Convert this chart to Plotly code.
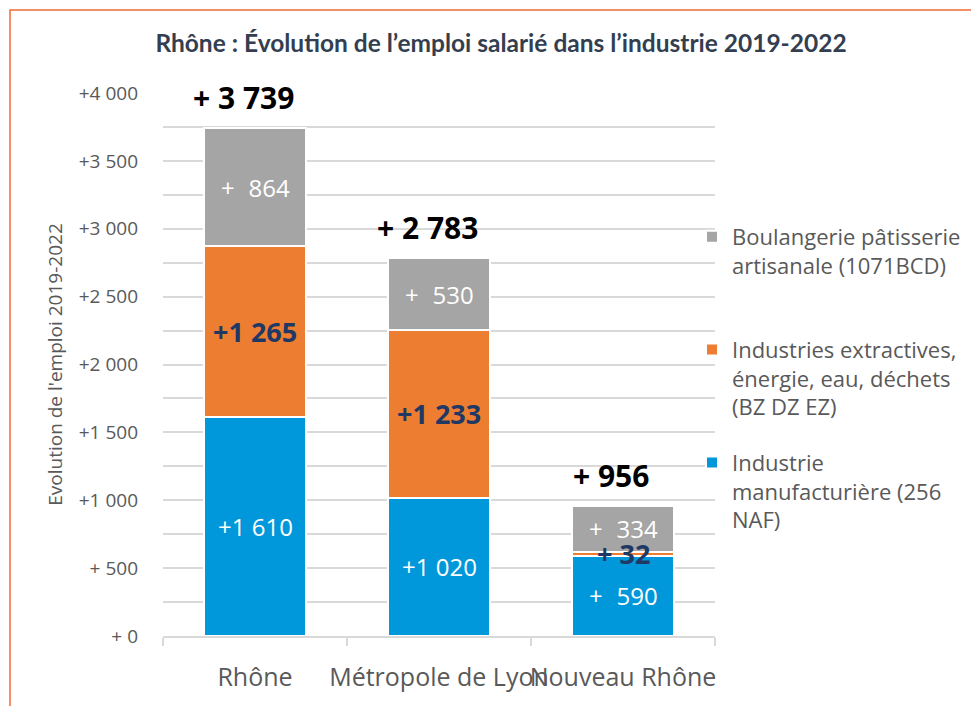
import plotly.graph_objects as go

categories = ["Rhône", "Métropole de Lyon", "Nouveau Rhône"]
manuf = [1610, 1020, 590]
extract = [1265, 1233, 32]
boulang = [864, 530, 334]
totals = [3739, 2783, 956]

series_names = [
    "Industrie<br>manufacturière (256<br>NAF)",
    "Industries extractives,<br>énergie, eau, déchets<br>(BZ DZ EZ)",
    "Boulangerie pâtisserie<br>artisanale (1071BCD)<br> ",
]
y_tickvals = [0, 500, 1000, 1500, 2000, 2500, 3000, 3500, 4000]
y_ticktext = ["+ 0", "+ 500", "+1 000", "+1 500", "+2 000", "+2 500", "+3 000", "+3 500", "+4 000"]


def fmt(v, gap="\u2007"):
    s = f"{v:,}".replace(",", " ")
    return ("+" + s) if v >= 1000 else ("+" + gap + s)


BLUE = "#0098DA"
ORANGE = "#ED7D31"
GRAY = "#A5A5A5"
NAVY = "#1F3864"
TXT = "#595959"
FONT = "Open Sans"

fig = go.Figure()
specs = [
    (manuf, series_names[0], BLUE, "white", False, 3),
    (extract, series_names[1], ORANGE, NAVY, True, 2),
    (boulang, series_names[2], GRAY, "white", False, 1),
]
base = [0, 0, 0]
for i, (vals, name, col, tcol, bold, rank) in enumerate(specs):
    fig.add_trace(go.Bar(
        x=categories, y=vals, name=name, legendgroup=f"g{i}", legendrank=rank,
        marker=dict(color=col, line=dict(color="white", width=2)),
        hoverinfo="skip",
    ))
    for j, (c, v) in enumerate(zip(categories, vals)):
        fig.add_annotation(
            x=c, y=base[j] + v / 2, xref="x", yref="y",
            text=fmt(v, " " if bold else "\u2007"), showarrow=False,
            yanchor="middle",
            font=dict(family=FONT, size=27 if bold else 24, color=tcol,
                      weight="bold" if bold else "normal"),
        )
        base[j] += v

for c, t in zip(categories, totals):
    fig.add_annotation(
        x=c, y=t, xref="x", yref="y", text="+ " + f"{t:,}".replace(",", " "),
        showarrow=False, yanchor="bottom", yshift=8, xshift=-12,
        font=dict(family=FONT, size=30, color="black", weight="bold"),
    )

# page body adds an 8px offset; positions below are figure coordinates
OFF = 8
W, H = 979, 706
L, T = 163 - OFF, 93 - OFF
PW, PH = 552, 543
R, B = W - L - PW, H - T - PH


def px_x(p):  # reference pixel -> paper x
    return (p - OFF - L) / PW


def px_y(p):  # reference pixel -> paper y
    return (T + PH - (p - OFF)) / PH


fig.add_shape(type="rect", xref="paper", yref="paper",
              x0=px_x(10), x1=px_x(1100), y0=px_y(760), y1=px_y(10),
              line=dict(color="#F26B3A", width=1.5), fillcolor="rgba(0,0,0,0)")

fig.update_layout(
    width=W, height=H,
    margin=dict(l=L, r=R, t=T, b=B, autoexpand=False),
    paper_bgcolor="white", plot_bgcolor="white",
    barmode="stack", bargap=0.446,
    title=dict(text="<b>Rhône : Évolution de l’emploi salarié dans l’industrie 2019-2022</b>",
               x=(501 - OFF) / W, xanchor="center", y=1 - 35 / H, yanchor="middle",
               font=dict(family="Lato", size=24.5, color="#333F50")),
    legend=dict(x=px_x(692), y=px_y(216), xanchor="left", yanchor="top",
                traceorder="grouped", valign="top",
                font=dict(family=FONT, size=22, color=TXT),
                tracegroupgap=24, bgcolor="rgba(0,0,0,0)"),
    showlegend=True,
)
fig.update_xaxes(
    showline=True, linecolor="#D9D9D9", linewidth=2,
    ticks="outside", tickson="boundaries", ticklen=8, tickcolor="#D9D9D9", tickwidth=2,
    tickfont=dict(family=FONT, size=25, color=TXT), ticklabelstandoff=18,
    tickangle=0, automargin=False,
    showgrid=False, range=[-0.5, 2.5],
)
fig.update_yaxes(
    range=[0, 4000], tickvals=y_tickvals, ticktext=y_ticktext,
    tickfont=dict(family=FONT, size=19, color=TXT), ticklabelstandoff=24,
    showgrid=True, gridcolor="#D9D9D9", gridwidth=1.5,
    minor=dict(dtick=250, showgrid=True, gridcolor="#D9D9D9", gridwidth=1.5),
    zeroline=False, showline=False, automargin=False,
    title=dict(text="Evolution de l'emploi 2019-2022", standoff=11,
               font=dict(family=FONT, size=19, color=TXT)),
)

fig.write_html("out.html")
